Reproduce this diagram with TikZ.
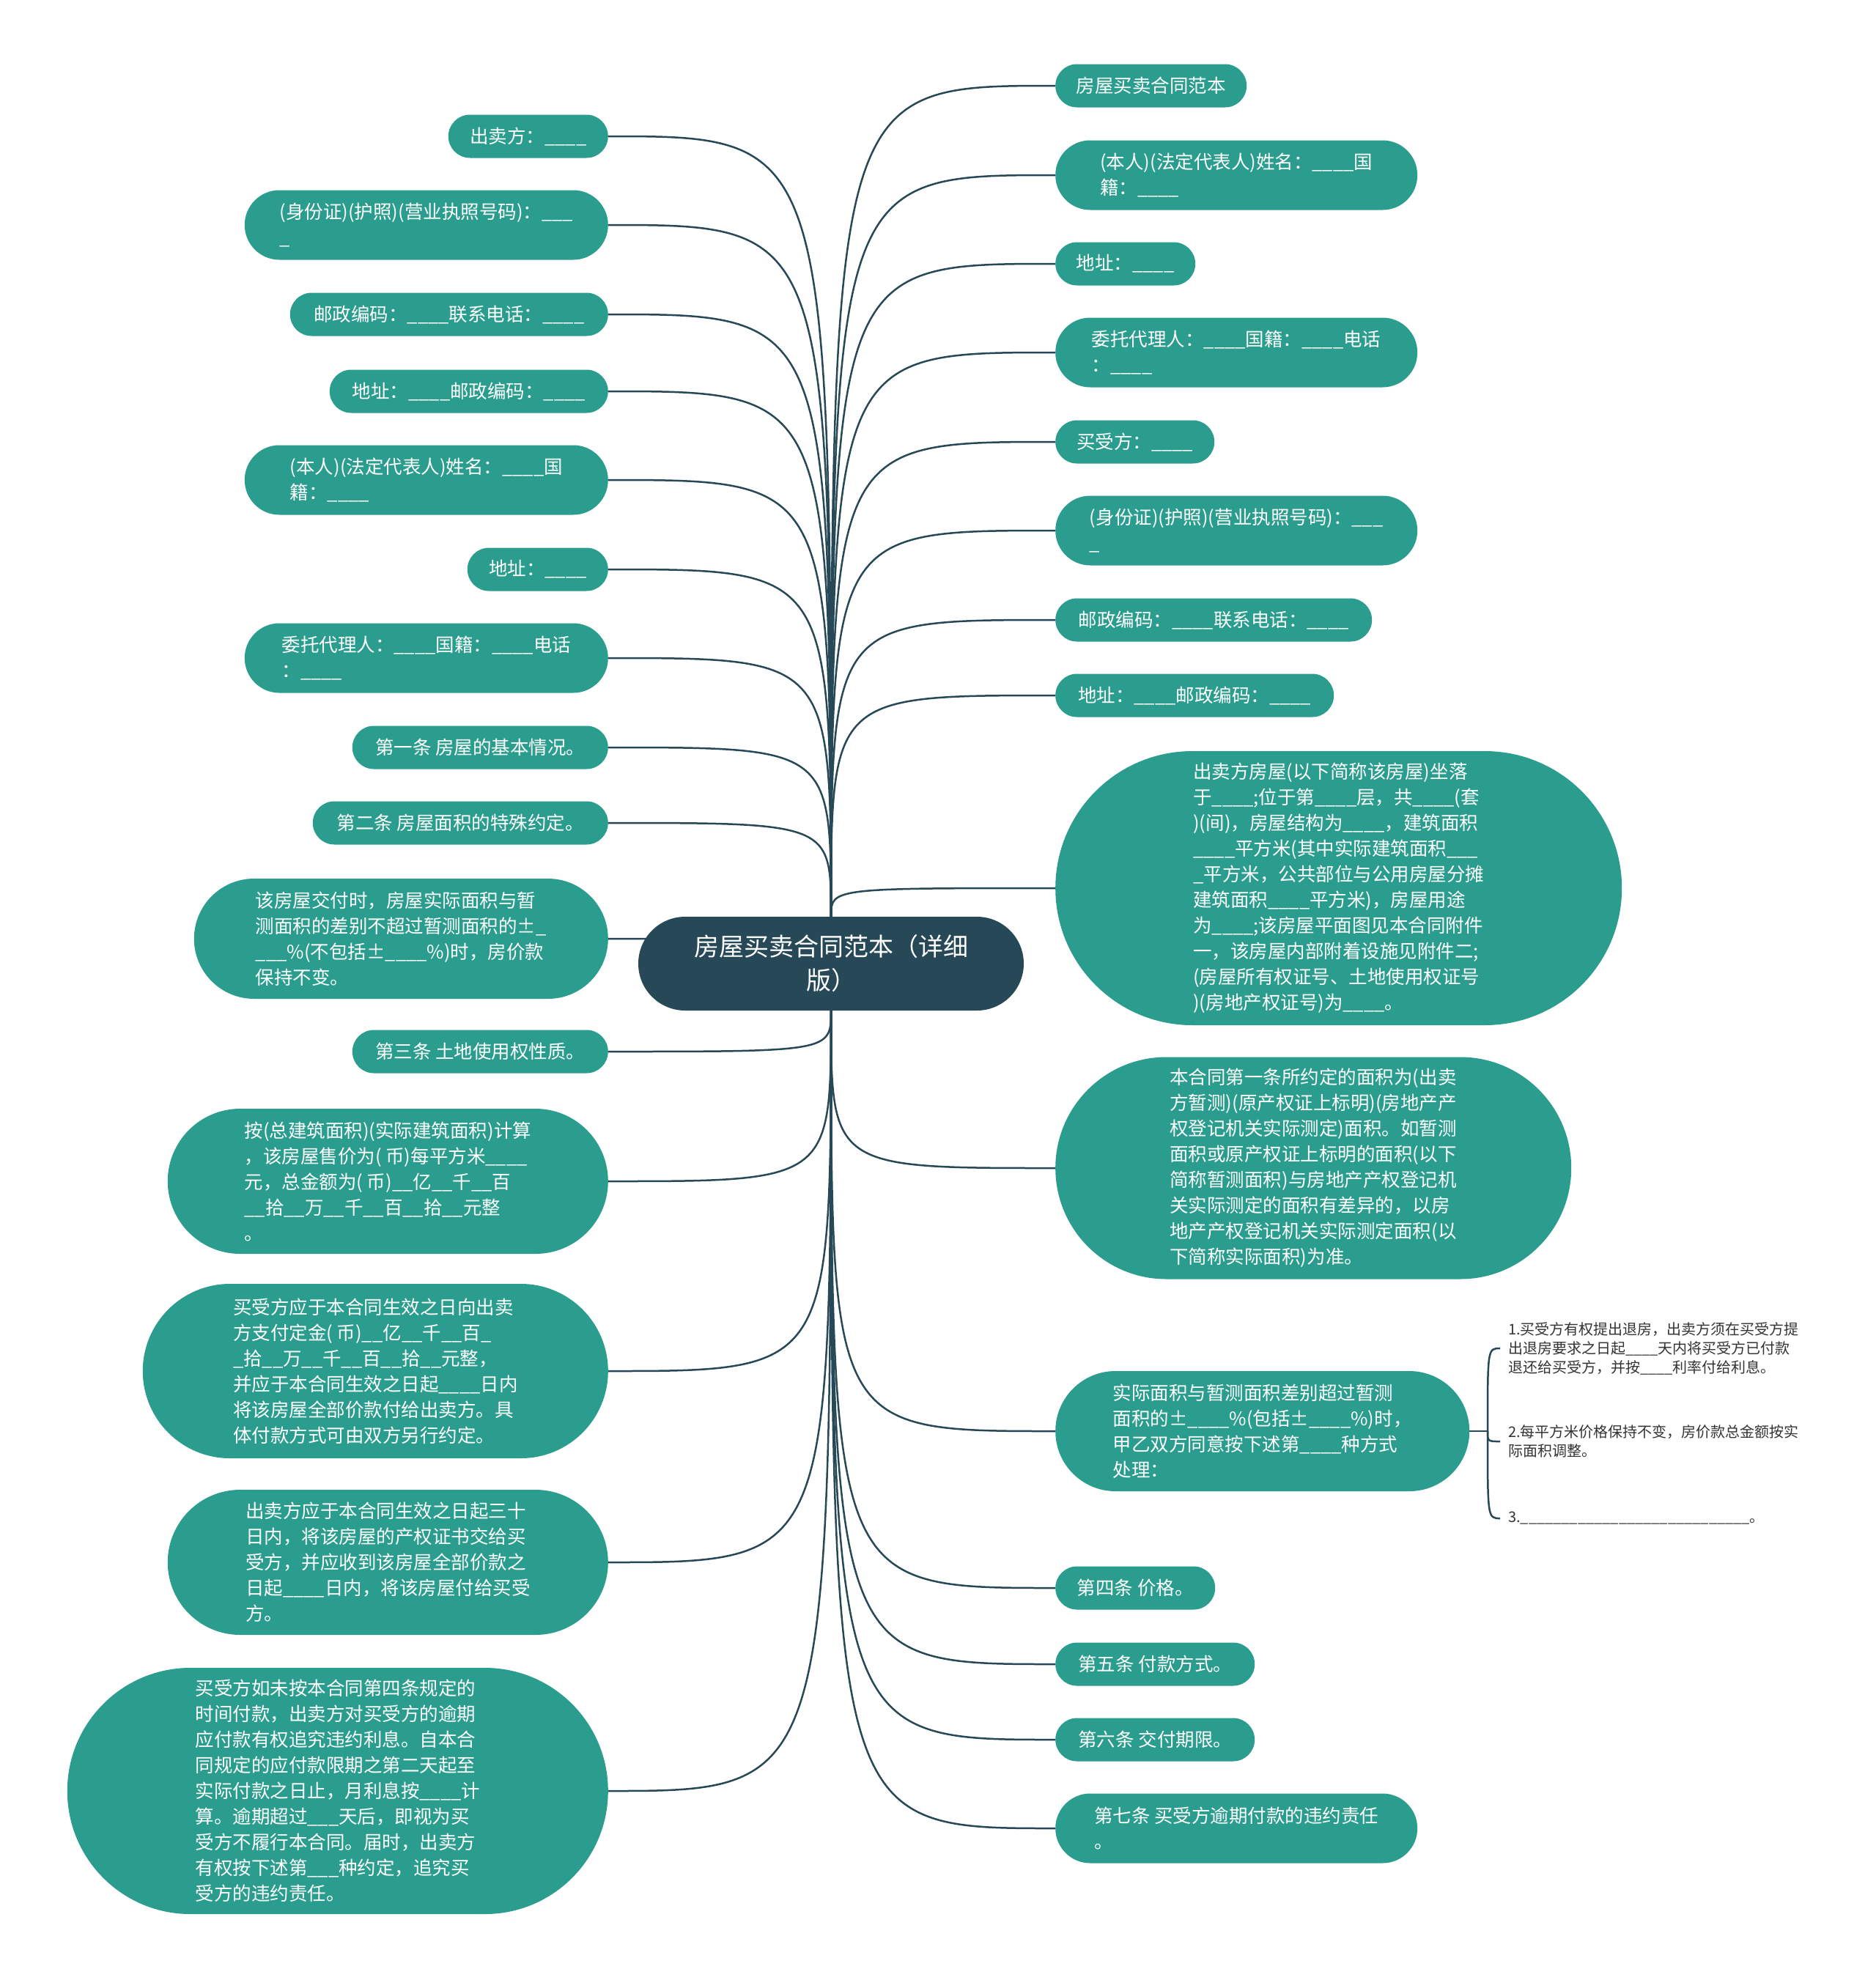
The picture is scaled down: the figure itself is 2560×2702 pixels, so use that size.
\documentclass[tikz,border=0pt]{standalone}
\usepackage{fontspec}
\setmainfont{Noto Sans CJK SC}
\usepackage{xcolor}
\definecolor{rootblue}{RGB}{39,72,86}
\definecolor{topicgreen}{RGB}{43,157,142}
\definecolor{leafgray}{RGB}{51,51,51}
\usepackage{tikz}
\usetikzlibrary{shapes.misc,backgrounds}
\tikzset{
  root/.style={rounded rectangle,fill=rootblue,text=white,align=center,
    font=\fontsize{34}{46}\selectfont,minimum width=530pt,minimum height=128pt,inner xsep=2pt},
  topic/.style={rounded rectangle,fill=topicgreen,text=white,align=left,
    font=\fontsize{25.5}{35}\selectfont,inner xsep=2pt,inner ysep=0pt},
  lefttopic/.style={topic,anchor=east},
  righttopic/.style={topic,anchor=west},
  leaf/.style={anchor=west,text=leafgray,align=left,font=\fontsize{20}{26}\selectfont,inner xsep=11pt},
  link/.style={draw=rootblue,line width=2.5pt}
}
\newcommand{\leftitem}[5]{\node[lefttopic,minimum width=#3pt,minimum height=#4pt] (#1) at (830,#2) {#5};}
\newcommand{\rightitem}[5]{\node[righttopic,minimum width=#3pt,minimum height=#4pt] (#1) at (1440,#2) {#5};}
\newcommand{\branch}[2]{\draw[link] (#1) .. controls (#1 |- #2) .. (#2);}

\begin{document}
\begin{tikzpicture}[x=1pt,y=-1pt]
\useasboundingbox (0,0) rectangle (2560,2702);
% ---- ROOT ----
\node[root] (root) at (1134,1315) {房屋买卖合同范本（详细\\版）};
% ---- LEWA STRONA ----
\leftitem{l1}{186}{222}{59}{出卖方：\_\_\_\_}
\leftitem{l2}{307}{500}{95}{(身份证)(护照)(营业执照号码)：\_\_\_\\\_}
\leftitem{l3}{429}{438}{59}{邮政编码：\_\_\_\_联系电话：\_\_\_\_}
\leftitem{l4}{534}{384}{59}{地址：\_\_\_\_邮政编码：\_\_\_\_}
\leftitem{l5}{655}{500}{95}{(本人)(法定代表人)姓名：\_\_\_\_国\\籍：\_\_\_\_}
\leftitem{l6}{777}{196}{59}{地址：\_\_\_\_}
\leftitem{l7}{898}{500}{95}{委托代理人：\_\_\_\_国籍：\_\_\_\_电话\\：\_\_\_\_}
\leftitem{l8}{1020}{353}{59}{第一条 房屋的基本情况。}
\leftitem{l9}{1123}{407}{59}{第二条 房屋面积的特殊约定。}
\leftitem{l10}{1281}{569}{164}{该房屋交付时，房屋实际面积与暂\\测面积的差别不超过暂测面积的±\_\\\_\_\_\%(不包括±\_\_\_\_\%)时，房价款\\保持不变。}
\leftitem{l11}{1435}{353}{59}{第三条 土地使用权性质。}
\leftitem{l12}{1612}{605}{198}{按(总建筑面积)(实际建筑面积)计算\\，该房屋售价为( 币)每平方米\_\_\_\_\\元，总金额为( 币)\_\_亿\_\_千\_\_百\\\_\_拾\_\_万\_\_千\_\_百\_\_拾\_\_元整\\。}
\leftitem{l13}{1871}{639}{238}{买受方应于本合同生效之日向出卖\\方支付定金( 币)\_\_亿\_\_千\_\_百\_\\\_拾\_\_万\_\_千\_\_百\_\_拾\_\_元整，\\并应于本合同生效之日起\_\_\_\_日内\\将该房屋全部价款付给出卖方。具\\体付款方式可由双方另行约定。}
\leftitem{l14}{2132}{605}{198}{出卖方应于本合同生效之日起三十\\日内，将该房屋的产权证书交给买\\受方，并应收到该房屋全部价款之\\日起\_\_\_\_日内，将该房屋付给买受\\方。}
\leftitem{l15}{2444}{742}{336}{买受方如未按本合同第四条规定的\\时间付款，出卖方对买受方的逾期\\应付款有权追究违约利息。自本合\\同规定的应付款限期之第二天起至\\实际付款之日止，月利息按\_\_\_\_计\\算。逾期超过\_\_\_天后，即视为买\\受方不履行本合同。届时，出卖方\\有权按下述第\_\_\_种约定，追究买\\受方的违约责任。}
% ---- PRAWA STRONA ----
\rightitem{r1}{117}{265}{59}{房屋买卖合同范本}
\rightitem{r2}{239}{498}{95}{(本人)(法定代表人)姓名：\_\_\_\_国\\籍：\_\_\_\_}
\rightitem{r3}{360}{195}{59}{地址：\_\_\_\_}
\rightitem{r4}{481}{498}{95}{委托代理人：\_\_\_\_国籍：\_\_\_\_电话\\：\_\_\_\_}
\rightitem{r5}{603}{221}{59}{买受方：\_\_\_\_}
\rightitem{r6}{724}{498}{95}{(身份证)(护照)(营业执照号码)：\_\_\_\\\_}
\rightitem{r7}{846}{436}{59}{邮政编码：\_\_\_\_联系电话：\_\_\_\_}
\rightitem{r8}{949}{384}{59}{地址：\_\_\_\_邮政编码：\_\_\_\_}
\rightitem{r9}{1212}{777}{374}{出卖方房屋(以下简称该房屋)坐落\\于\_\_\_\_;位于第\_\_\_\_层，共\_\_\_\_(套\\)(间)，房屋结构为\_\_\_\_，建筑面积\\\_\_\_\_平方米(其中实际建筑面积\_\_\_\\\_平方米，公共部位与公用房屋分摊\\建筑面积\_\_\_\_平方米)，房屋用途\\为\_\_\_\_;该房屋平面图见本合同附件\\一，该房屋内部附着设施见附件二;\\(房屋所有权证号、土地使用权证号\\)(房地产权证号)为\_\_\_\_。}
\rightitem{r10}{1594}{708}{303}{本合同第一条所约定的面积为(出卖\\方暂测)(原产权证上标明)(房地产产\\权登记机关实际测定)面积。如暂测\\面积或原产权证上标明的面积(以下\\简称暂测面积)与房地产产权登记机\\关实际测定的面积有差异的，以房\\地产产权登记机关实际测定面积(以\\下简称实际面积)为准。}
\rightitem{r11}{1953}{569}{164}{实际面积与暂测面积差别超过暂测\\面积的±\_\_\_\_\%(包括±\_\_\_\_\%)时，\\甲乙双方同意按下述第\_\_\_\_种方式\\处理：}
\rightitem{r12}{2167}{222}{59}{第四条 价格。}
\rightitem{r13}{2271}{276}{59}{第五条 付款方式。}
\rightitem{r14}{2374}{276}{59}{第六条 交付期限。}
\rightitem{r15}{2495}{498}{95}{第七条 买受方逾期付款的违约责任\\。}
% ---- 处理方式 ----
\coordinate (fork) at (2030,1953);
\node[leaf] (k1) at (2047,1840) {1.买受方有权提出退房，出卖方须在买受方提\\出退房要求之日起\_\_\_\_天内将买受方已付款\\退还给买受方，并按\_\_\_\_利率付给利息。};
\node[leaf] (k2) at (2047,1967) {2.每平方米价格保持不变，房价款总金额按实\\际面积调整。};
\node[leaf] (k3) at (2047,2072) {3.\_\_\_\_\_\_\_\_\_\_\_\_\_\_\_\_\_\_\_\_\_\_\_\_\_\_\_\_。};
% ---- LINIE ----
\begin{pgfonlayer}{background}
\fill[white] (0,0) rectangle (2560,2702);
\foreach \n in {1,...,15}{\branch{root}{l\n.east}\branch{root}{r\n.west}}
\draw[link] (r11.east) -- (fork);
\foreach \n in {1,2,3}{\branch{fork}{k\n.west}}
\end{pgfonlayer}
\end{tikzpicture}
\end{document}
